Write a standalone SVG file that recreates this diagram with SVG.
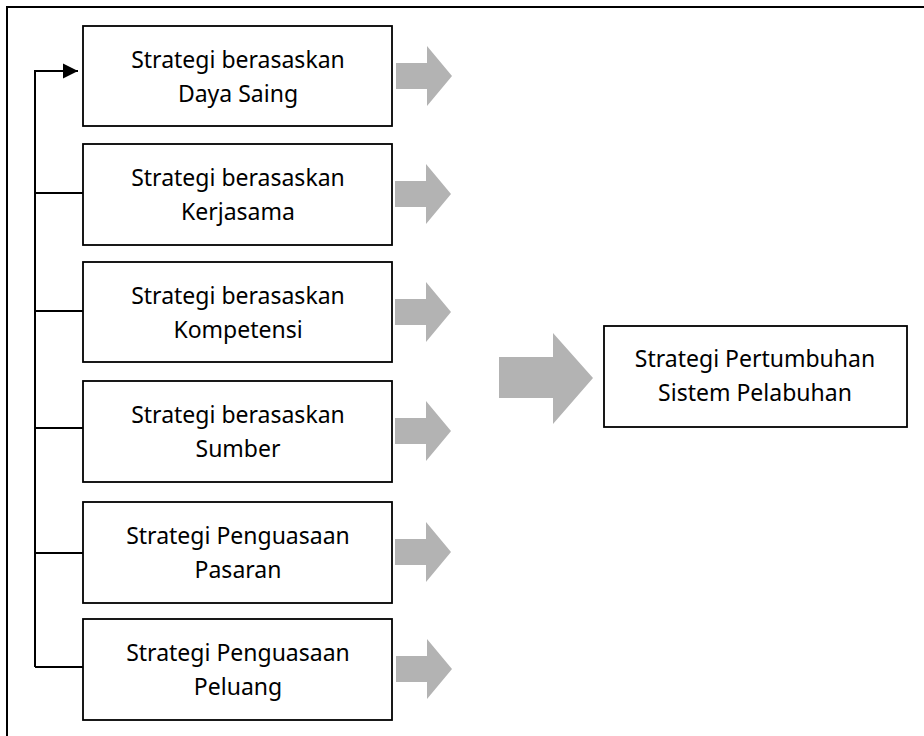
<svg xmlns="http://www.w3.org/2000/svg" width="924" height="736" viewBox="0 0 924 736">
  <style>
    .box { fill: #ffffff; stroke: #000000; stroke-width: 1.8; }
    .lbl { font-family: "Noto Sans", "Open Sans", "DejaVu Sans", sans-serif; font-size: 23px; fill: #000000; text-anchor: middle; }
    .wire { fill: none; stroke: #000000; stroke-width: 2; }
    .flow { fill: #b3b3b3; }
  </style>
  <defs>
    <marker id="head" viewBox="0 0 10 10" refX="10" refY="5" markerWidth="7.5" markerHeight="10" markerUnits="strokeWidth" orient="auto">
      <path d="M0,0 L10,5 L0,10 Z" fill="#000000"/>
    </marker>
    <!-- small grey block arrow, origin at shaft start / centre line -->
    <path id="smallArrow" d="M0,-13 L31,-13 L31,-30 L56,0 L31,30 L31,13 L0,13 Z"/>
  </defs>

  <rect width="924" height="736" fill="#ffffff"/>
  <!-- outer frame -->
  <rect x="7" y="7" width="930" height="740" fill="none" stroke="#000000" stroke-width="2"/>

  <g id="connectors">
    <path class="wire" d="M35,667 L35,71 L78,71" marker-end="url(#head)"/>
    <path class="wire" d="M35,193 L83,193"/>
    <path class="wire" d="M35,311 L83,311"/>
    <path class="wire" d="M35,428 L83,428"/>
    <path class="wire" d="M35,553 L83,553"/>
    <path class="wire" d="M35,667 L83,667"/>
    <use href="#smallArrow" class="flow" x="396" y="76"/>
    <use href="#smallArrow" class="flow" x="395" y="194"/>
    <use href="#smallArrow" class="flow" x="395" y="312"/>
    <use href="#smallArrow" class="flow" x="395" y="431"/>
    <use href="#smallArrow" class="flow" x="395" y="552"/>
    <use href="#smallArrow" class="flow" x="396" y="669"/>
    <path class="flow" d="M499,357 L553,357 L553,333 L593,378 L553,424 L553,398 L499,398 Z"/>
  </g>

  <g id="node-daya-saing">
    <rect class="box" x="83" y="26" width="309" height="100"/>
    <text class="lbl" x="238" y="68">Strategi berasaskan</text>
    <text class="lbl" x="238" y="102">Daya Saing</text>
  </g>
  <g id="node-kerjasama">
    <rect class="box" x="83" y="144" width="309" height="101"/>
    <text class="lbl" x="238" y="186">Strategi berasaskan</text>
    <text class="lbl" x="238" y="220">Kerjasama</text>
  </g>
  <g id="node-kompetensi">
    <rect class="box" x="83" y="262" width="309" height="100"/>
    <text class="lbl" x="238" y="304">Strategi berasaskan</text>
    <text class="lbl" x="238" y="338">Kompetensi</text>
  </g>
  <g id="node-sumber">
    <rect class="box" x="83" y="381" width="309" height="101"/>
    <text class="lbl" x="238" y="423">Strategi berasaskan</text>
    <text class="lbl" x="238" y="457">Sumber</text>
  </g>
  <g id="node-pasaran">
    <rect class="box" x="83" y="502" width="309" height="101"/>
    <text class="lbl" x="238" y="544">Strategi Penguasaan</text>
    <text class="lbl" x="238" y="578">Pasaran</text>
  </g>
  <g id="node-peluang">
    <rect class="box" x="83" y="619" width="309" height="101"/>
    <text class="lbl" x="238" y="661">Strategi Penguasaan</text>
    <text class="lbl" x="238" y="695">Peluang</text>
  </g>
  <g id="node-pertumbuhan">
    <rect class="box" x="604" y="326" width="303" height="101"/>
    <text class="lbl" x="755" y="367">Strategi Pertumbuhan</text>
    <text class="lbl" x="755" y="401">Sistem Pelabuhan</text>
  </g>
</svg>
